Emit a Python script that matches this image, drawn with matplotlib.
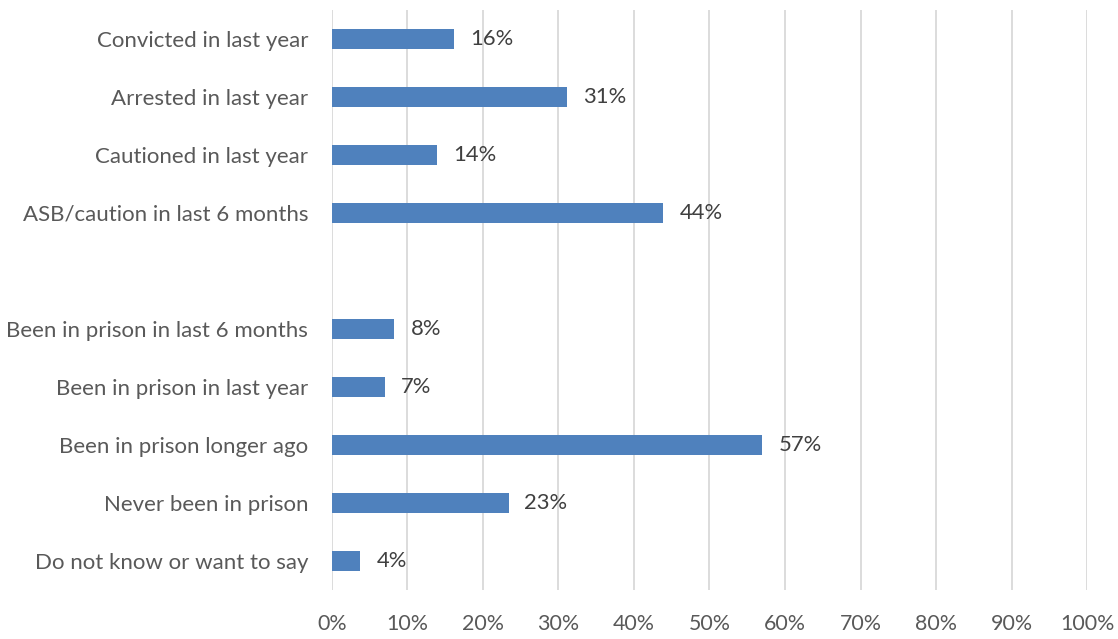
import matplotlib
matplotlib.use("Agg")
import matplotlib.pyplot as plt
from matplotlib.ticker import FuncFormatter

# categories top to bottom; "" is the spacer row between the two groups
categorias = ["Convicted in last year", "Arrested in last year", "Cautioned in last year",
              "ASB/caution in last 6 months", "",
              "Been in prison in last 6 months", "Been in prison in last year",
              "Been in prison longer ago", "Never been in prison", "Do not know or want to say"]
valores = [16.2, 31.2, 14.0, 43.9, None, 8.3, 7.1, 57.0, 23.4, 3.8]

AZUL = "#4f81bd"
TXT = "#595959"
TXT_VAL = "#404040"
GRADE = "#d9d9d9"

plt.rcParams["font.family"] = ["Lato", "DejaVu Sans"]

fig = plt.figure(figsize=(11.18, 6.39), dpi=100)
ax = fig.add_axes([0.2967, 0.0767, 0.9725 - 0.2967, 0.9844 - 0.0767])

for i, v in enumerate(valores):
    if v is None:
        continue
    ax.barh(i, v, height=0.345, color=AZUL, zorder=3)
    ax.annotate(f"{v:.0f}%", (v, i), xytext=(11.5, 0), textcoords="offset points",
                ha="left", va="center", fontsize=15.8, color=TXT_VAL)

ax.set_xlim(0, 100)
ax.set_ylim(len(categorias) - 0.5, -0.5)
ax.set_xticks(range(0, 101, 10))
ax.xaxis.set_major_formatter(FuncFormatter(lambda x, _: f"{x:.0f}%"))
ax.set_yticks(range(len(categorias)))
ax.set_yticklabels(categorias)
ax.grid(axis="x", color=GRADE, lw=1.3, zorder=0)
ax.tick_params(axis="both", length=0, labelcolor=TXT)
ax.tick_params(axis="x", pad=17, labelsize=15.4)
ax.tick_params(axis="y", pad=17, labelsize=16)
for s in ax.spines.values():
    s.set_visible(False)

fig.savefig("out.png", dpi=100)
